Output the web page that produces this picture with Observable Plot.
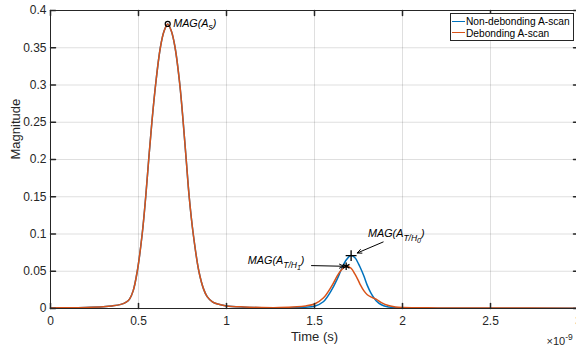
<!DOCTYPE html>
<html><head><meta charset="utf-8">
<script src="https://cdn.jsdelivr.net/npm/d3@7"></script>
<script src="https://cdn.jsdelivr.net/npm/@observablehq/plot@0.6"></script>
<style>
html,body{margin:0;padding:0;background:#fff;overflow:hidden;}
#wrap{position:relative;width:576px;height:349px;overflow:hidden;background:#fff;}
#legend{position:absolute;left:450px;top:13px;width:124px;height:28px;border:1px solid #262626;background:#fff;
  font-family:"Liberation Sans",Arial,sans-serif;font-size:10.2px;color:#000;box-sizing:border-box;}
#legend .row{position:absolute;left:1px;height:12px;line-height:12px;white-space:nowrap;}
#legend .sw{display:inline-block;width:13px;height:0;border-top:1.5px solid;vertical-align:middle;margin-right:1px;position:relative;top:-1px;}
</style></head><body><div id="wrap"><div id="legend"></div></div>
<script>
// time axis in units of 1e-9 s
const timeNs = [0, 0.1, 0.2, 0.3, 0.35, 0.4, 0.43, 0.45, 0.47, 0.493, 0.521, 0.541, 0.558, 0.576, 0.597, 0.624, 0.645, 0.666, 0.687, 0.708, 0.735, 0.754, 0.771, 0.788, 0.811, 0.843, 0.87, 0.89, 0.92, 0.95, 1.0, 1.1, 1.2, 1.3, 1.4, 1.45, 1.5, 1.55, 1.6, 1.63, 1.65, 1.68, 1.708, 1.73, 1.75, 1.76, 1.78, 1.8, 1.82, 1.85, 1.88, 1.92, 1.96, 2.0, 2.2, 2.5, 3.0];
const nonDebonding = [0.0008, 0.001, 0.0015, 0.0025, 0.0035, 0.0055, 0.0085, 0.013, 0.024, 0.05, 0.1, 0.15, 0.2, 0.25, 0.3, 0.35, 0.372, 0.382, 0.372, 0.35, 0.3, 0.25, 0.2, 0.15, 0.1, 0.05, 0.026, 0.016, 0.009, 0.006, 0.0035, 0.0018, 0.001, 0.0008, 0.0012, 0.0018, 0.003, 0.009, 0.026, 0.04, 0.051, 0.065, 0.071, 0.068, 0.06, 0.055, 0.044, 0.031, 0.021, 0.0105, 0.005, 0.002, 0.001, 0.0006, 0.0004, 0.0003, 0.0003];
const debonding = [0.0008, 0.001, 0.0015, 0.0025, 0.0035, 0.0055, 0.0085, 0.013, 0.024, 0.05, 0.1, 0.15, 0.2, 0.25, 0.3, 0.35, 0.372, 0.382, 0.372, 0.35, 0.3, 0.25, 0.2, 0.15, 0.1, 0.05, 0.026, 0.016, 0.009, 0.006, 0.0035, 0.002, 0.0013, 0.0012, 0.0022, 0.0035, 0.006, 0.014, 0.031, 0.044, 0.051, 0.0567, 0.054, 0.046, 0.037, 0.032, 0.024, 0.0185, 0.0155, 0.0125, 0.008, 0.004, 0.002, 0.0013, 0.0008, 0.0006, 0.0005];
const seriesNames = ["Non-debonding A-scan", "Debonding A-scan"];
const seriesColors = ["#0072BD", "#D95319"];
const xTicks = [0, 0.5, 1, 1.5, 2, 2.5, 3];
const yTicks = [0, 0.05, 0.1, 0.15, 0.2, 0.25, 0.3, 0.35, 0.4];
const xLabel = "Time (s)";
const yLabel = "Magnitude";
const xExponent = ["×10", "-9"];
// annotations
const annX = [0.697, 1.804, 1.121];
const annY = [0.383, 0.1005, 0.0638];
const annMain = ["MAG(A", "MAG(A", "MAG(A"];
const annSub = ["s", "T/H", "T/H"];
const annSubSub = ["", "0", "1"];
const peakX = [0.666, 1.708, 1.68];
const peakY = [0.382, 0.071, 0.0567];
const peakSymbol = ["circle", "plus", "asterisk"];
const arrowX1 = [1.890, 1.483];
const arrowY1 = [0.0893, 0.0576];
const arrowX2 = [1.743, 1.666];
const arrowY2 = [0.0745, 0.0567];

const rows = [];
seriesNames.forEach((s, k) => {
  const vals = k === 0 ? nonDebonding : debonding;
  timeNs.forEach((t, i) => rows.push({series: s, t, v: vals[i]}));
});
const peaks = peakX.map((x, i) => ({x, y: peakY[i], s: peakSymbol[i]}));
const arrows = arrowX1.map((x1, i) => ({x1, y1: arrowY1[i], x2: arrowX2[i], y2: arrowY2[i]}));
const anns = annX.map((x, i) => ({x, y: annY[i], main: annMain[i], sub: annSub[i], subsub: annSubSub[i]}));

const tickShape = {draw(ctx, l) { ctx.moveTo(0, 0); ctx.lineTo(0, -l); }};
const axisColor = "#262626";
const font = "'Liberation Sans', Arial, Helvetica, sans-serif";

const plot = Plot.plot({
  width: 580, height: 349,
  marginLeft: 50, marginRight: 2, marginTop: 10, marginBottom: 41,
  style: {fontFamily: font, fontSize: "12px", color: axisColor, background: "#fff", maxWidth: "none", overflow: "visible"},
  x: {domain: [0, 3]},
  y: {domain: [0, 0.4]},
  color: {domain: seriesNames, range: seriesColors},
  marks: [
    Plot.gridX(xTicks, {stroke: axisColor, strokeOpacity: 0.15}),
    Plot.gridY(yTicks, {stroke: axisColor, strokeOpacity: 0.15}),
    Plot.line(rows, {x: "t", y: "v", z: "series", stroke: "series", strokeWidth: 1.5, curve: "catmull-rom"}),
    Plot.frame({stroke: axisColor, strokeWidth: 1}),
    Plot.vector(xTicks, {x: d => d, frameAnchor: "bottom", length: 5, rotate: 0, anchor: "start", shape: tickShape, stroke: axisColor}),
    Plot.vector(xTicks, {x: d => d, frameAnchor: "top", length: 5, rotate: 180, anchor: "start", shape: tickShape, stroke: axisColor}),
    Plot.vector(yTicks, {y: d => d, frameAnchor: "left", length: 5, rotate: 90, anchor: "start", shape: tickShape, stroke: axisColor}),
    Plot.vector(yTicks, {y: d => d, frameAnchor: "right", length: 5, rotate: -90, anchor: "start", shape: tickShape, stroke: axisColor}),
    Plot.axisX({ticks: xTicks, tickSize: 0, tickPadding: 8, tickFormat: d => String(d), label: null, fontSize: 12, fill: axisColor}),
    Plot.axisY({ticks: yTicks, tickSize: 0, tickPadding: 4, tickFormat: d => String(d), label: null, fontSize: 12, fill: axisColor}),
    Plot.text([xLabel], {frameAnchor: "bottom", text: d => d, dy: 28.4, lineAnchor: "middle", fontSize: 13, fill: axisColor}),
    Plot.text([yLabel], {frameAnchor: "left", text: d => d, dx: -35, rotate: -90, lineAnchor: "middle", fontSize: 13, fill: axisColor}),
    Plot.text([xExponent[0]], {frameAnchor: "bottom-right", text: d => d, dx: -32, dy: 33.4, textAnchor: "start", lineAnchor: "middle", fontSize: 11, fill: axisColor}),
    Plot.arrow(arrows, {x1: "x1", y1: "y1", x2: "x2", y2: "y2", stroke: "#000", strokeWidth: 1, headLength: 7, headAngle: 50}),
    Plot.dot(peaks.filter(d => d.s === "circle"), {x: "x", y: "y", r: 2.5, stroke: "#000", strokeWidth: 1.2, fill: "none"}),
    Plot.dot(peaks.filter(d => d.s !== "circle"), {x: "x", y: "y", symbol: "s", r: 3.6, stroke: "#000", strokeWidth: 1.3, fill: "none"}),
    Plot.text(anns, {x: "x", y: "y", text: "main", textAnchor: "start", lineAnchor: "middle", fontSize: 10.8, fontStyle: "italic", fill: "#000"})
  ]
});

const svg = d3.select(plot);
// subscripts of annotation labels
const annNodes = svg.selectAll("text").filter(function() { return this.textContent === "MAG(A" && this.closest("g[aria-label='text']"); }).nodes();
annNodes.forEach((node, i) => {
  const a = anns[i];
  const t = d3.select(node);
  t.append("tspan").attr("font-size", 8.5).attr("dy", 3.5).text(a.sub);
  let back = -3.5;
  if (a.subsub) { t.append("tspan").attr("font-size", 7).attr("dy", 2.5).text(a.subsub); back = -6; }
  t.append("tspan").attr("font-size", 10.8).attr("dy", back).text(")");
});
// exponent superscript
svg.selectAll("text").filter(function() { return this.textContent === xExponent[0]; }).each(function() {
  d3.select(this).append("tspan").attr("font-size", 8.5).attr("dy", -5).text(xExponent[1]);
});

document.getElementById("wrap").prepend(plot);
const legend = d3.select("#legend");
seriesNames.forEach((s, i) => {
  const r = legend.append("div").attr("class", "row").style("top", (2 + i * 11.5) + "px");
  r.append("span").attr("class", "sw").style("border-top-color", seriesColors[i]);
  r.append("span").text(s);
});
</script></body></html>
